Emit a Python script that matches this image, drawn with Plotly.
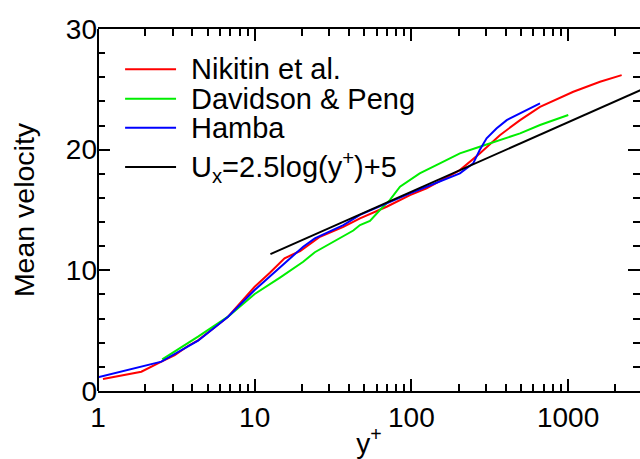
import plotly.graph_objects as go

# Mean velocity profiles versus wall distance y+
nikitin_y = [1.076, 1.89, 2.54, 3.09, 3.75, 4.35, 6.76, 10.0, 12.5, 15.5, 19.5, 26.1,
             36.8, 42.6, 47, 69.5, 98, 125, 204, 273, 367, 494, 662, 1080, 1599, 2198]
nikitin_u = [0.99, 1.6, 2.43, 2.98, 3.73, 4.2, 6.16, 8.64, 9.8, 11.0, 11.6, 12.78,
             13.6, 14.03, 14.3, 15.27, 16.24, 16.79, 18.31, 19.69, 21.2, 22.45, 23.55, 24.8, 25.63, 26.18]

davidson_y = [2.57, 4.35, 6.76, 10.0, 14.5, 20.4, 24.2, 33.4, 42.6, 47, 54.4, 63,
              72.8, 84.6, 113, 152, 204, 273, 367, 494, 662, 1003]
davidson_u = [2.62, 4.5, 6.16, 8.04, 9.4, 10.71, 11.5, 12.51, 13.3, 13.75, 14.1, 15.0,
              15.82, 16.93, 18.04, 18.86, 19.69, 20.24, 20.8, 21.35, 22.04, 22.87]

hamba_y = [1.0, 2.54, 4.35, 6.76, 10.0, 15.5, 20.4, 24.2, 33.4, 36.8, 47, 54.4, 69.5,
           98, 125, 204, 248, 273, 302, 349, 406, 518, 662]
hamba_u = [1.13, 2.43, 4.17, 6.16, 8.37, 10.58, 11.96, 12.65, 13.48, 13.75, 14.6, 14.95, 15.6,
           16.38, 16.93, 18.04, 18.86, 19.97, 20.94, 21.76, 22.45, 23.14, 23.84]

# log law U = 2.5 ln(y+) + 5 is straight on a log axis: two end points
loglaw_y = [12.6, 3000]
loglaw_u = [11.34, 25.02]

series_names = ["Nikitin et al.", "Davidson & Peng", "Hamba",
                "U<sub>x</sub>=2.5log(y<sup>+</sup>)+5"]
series_colors = ["#ff0000", "#00ee00", "#0000ff", "#000000"]

x_tickvals = [1, 10, 100, 1000]
x_ticktext = ["1", "10", "100", "1000"]
y_tickvals = [0, 10, 20, 30]

FONT = "Liberation Sans, Arial, sans-serif"

fig = go.Figure()
for xs, ys, color, name in [
    (nikitin_y, nikitin_u, series_colors[0], series_names[0]),
    (davidson_y, davidson_u, series_colors[1], series_names[1]),
    (hamba_y, hamba_u, series_colors[2], series_names[2]),
    (loglaw_y, loglaw_u, series_colors[3], series_names[3]),
]:
    fig.add_trace(go.Scatter(x=xs, y=ys, mode="lines", name=name,
                             line=dict(color=color, width=2), showlegend=False))

# hand-placed legend: line samples and labels
legend_rows = [0.889, 0.807, 0.727, 0.619]
for name, color, yp in zip(series_names, series_colors, legend_rows):
    fig.add_shape(type="line", xref="paper", yref="paper",
                  x0=0.05, x1=0.144, y0=yp, y1=yp,
                  line=dict(color=color, width=2))
    fig.add_annotation(xref="paper", yref="paper", x=0.168, y=yp,
                       xanchor="left", yanchor="middle", text=name,
                       showarrow=False, font=dict(size=29, color="black", family=FONT))

# left frame edge (the right edge lies just beyond the visible area)
fig.add_shape(type="line", xref="paper", yref="paper", x0=0, x1=0, y0=0, y1=1,
              line=dict(color="black", width=2))

fig.update_layout(
    width=640, height=459,
    margin=dict(l=98, r=0, t=29, b=68),
    paper_bgcolor="white", plot_bgcolor="white",
    font=dict(family=FONT, size=28, color="black"),
    showlegend=False,
)
fig.update_xaxes(
    type="log", range=[0, 3.459],
    tickvals=x_tickvals, ticktext=x_ticktext,
    ticks="inside", ticklen=12, tickwidth=1.5, tickcolor="black",
    minor=dict(ticks="inside", ticklen=7, tickwidth=1.5, tickcolor="black", dtick="D1"),
    showline=True, linewidth=2, linecolor="black", mirror="ticks",
    showgrid=False, zeroline=False,
    tickfont=dict(size=28),
    title=dict(text="y<sup>+</sup>", font=dict(size=28), standoff=6),
)
fig.update_yaxes(
    range=[0, 30], tickvals=y_tickvals,
    ticks="inside", ticklen=12, tickwidth=1.5, tickcolor="black",
    minor=dict(ticks="inside", ticklen=7, tickwidth=1.5, tickcolor="black", dtick=2),
    showline=False, mirror="ticks",
    showgrid=False, zeroline=False,
    tickfont=dict(size=28),
    title=dict(text="Mean velocity", font=dict(size=28.5), standoff=22),
)

fig.write_html("out.html")
